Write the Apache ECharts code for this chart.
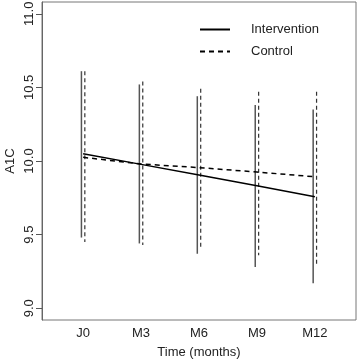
<!DOCTYPE html>
<html>
<head>
<meta charset="utf-8">
<script src="https://cdn.jsdelivr.net/npm/echarts@6/dist/echarts.min.js"></script>
<style>
  html, body { margin: 0; padding: 0; background: #fff; }
  #chart { width: 358px; height: 361px; }
</style>
</head>
<body>
<div id="chart"></div>
<script>
  const months = ["J0", "M3", "M6", "M9", "M12"];
  const yTicks = [9.0, 9.5, 10.0, 10.5, 11.0];

  const interventionMean = [10.05, 9.977, 9.905, 9.832, 9.757];
  const interventionLow = [9.48, 9.44, 9.37, 9.28, 9.17];
  const interventionHigh = [10.61, 10.52, 10.44, 10.38, 10.35];

  const controlMean = [10.025, 9.98, 9.955, 9.925, 9.893];
  const controlLow = [9.45, 9.43, 9.41, 9.36, 9.30];
  const controlHigh = [10.61, 10.54, 10.49, 10.47, 10.47];

  const chart = echarts.init(document.getElementById("chart"));

  function errorBars(shift, style) {
    return function (params, api) {
      const i = api.value(0);
      const top = api.coord([i, api.value(2)]);
      const bottom = api.coord([i, api.value(1)]);
      return {
        type: "line",
        shape: { x1: top[0] + shift, y1: top[1], x2: bottom[0] + shift, y2: bottom[1] },
        style: style,
      };
    };
  }

  const font = { fontSize: 13, color: "#222", fontFamily: "Liberation Sans" };

  const options = {
    animation: false,
    grid: {
      left: 42,
      right: 2,
      top: 2,
      bottom: 41,
      outerBoundsMode: "none",
      show: true,
      borderColor: "#777",
      borderWidth: 1,
    },
    legend: {
      orient: "vertical",
      left: 199,
      top: 23,
      padding: 0,
      itemWidth: 30,
      itemHeight: 14,
      itemGap: 9,
      itemStyle: { color: "transparent", borderWidth: 0 },
      textStyle: Object.assign({ padding: [0, 0, 0, 16] }, font),
      data: ["Intervention", "Control"],
    },
    xAxis: {
      type: "value",
      min: -0.71,
      max: 4.71,
      name: "Time (months)",
      nameLocation: "middle",
      nameMoveOverlap: false,
      nameGap: 26,
      nameTextStyle: font,
      axisLine: { show: false, onZero: false },
      axisTick: { show: false },
      splitLine: { show: false },
      axisLabel: Object.assign({
        customValues: [0, 1, 2, 3, 4],
        formatter: (v) => months[Math.round(v)],
        margin: 7,
      }, font),
    },
    yAxis: {
      type: "value",
      position: "left",
      min: 8.92,
      max: 11.08,
      name: "A1C",
      nameLocation: "middle",
      nameMoveOverlap: false,
      nameGap: 25,
      nameTextStyle: font,
      axisLine: { show: true, onZero: false, lineStyle: { color: "#666", width: 1 } },
      splitLine: { show: false },
      axisTick: {
        show: true,
        inside: false,
        customValues: yTicks,
        length: 6,
        lineStyle: { color: "#555", width: 1 },
      },
      axisLabel: Object.assign({
        customValues: yTicks,
        formatter: (v) => v.toFixed(1),
        rotate: 90,
        margin: 6,
      }, font),
    },
    series: [
      {
        name: "Intervention",
        type: "line",
        data: interventionMean.map((v, i) => [i, v]),
        symbol: "none",
        lineStyle: { color: "#000", width: 1.5, type: "solid" },
        itemStyle: { color: "#000" },
        z: 3,
      },
      {
        name: "Control",
        type: "line",
        data: controlMean.map((v, i) => [i, v]),
        symbol: "none",
        lineStyle: { color: "#000", width: 1.5, type: [5, 4] },
        itemStyle: { color: "#000" },
        z: 3,
      },
      {
        type: "custom",
        data: interventionLow.map((v, i) => [i, v, interventionHigh[i]]),
        renderItem: errorBars(-1.7, { stroke: "#555", lineWidth: 1.5 }),
        silent: true,
        z: 2,
      },
      {
        type: "custom",
        data: controlLow.map((v, i) => [i, v, controlHigh[i]]),
        renderItem: errorBars(1.7, { stroke: "#333", lineWidth: 1.2, lineDash: [4, 3] }),
        silent: true,
        z: 2,
      },
    ],
  };

  chart.setOption(options);
</script>
</body>
</html>
